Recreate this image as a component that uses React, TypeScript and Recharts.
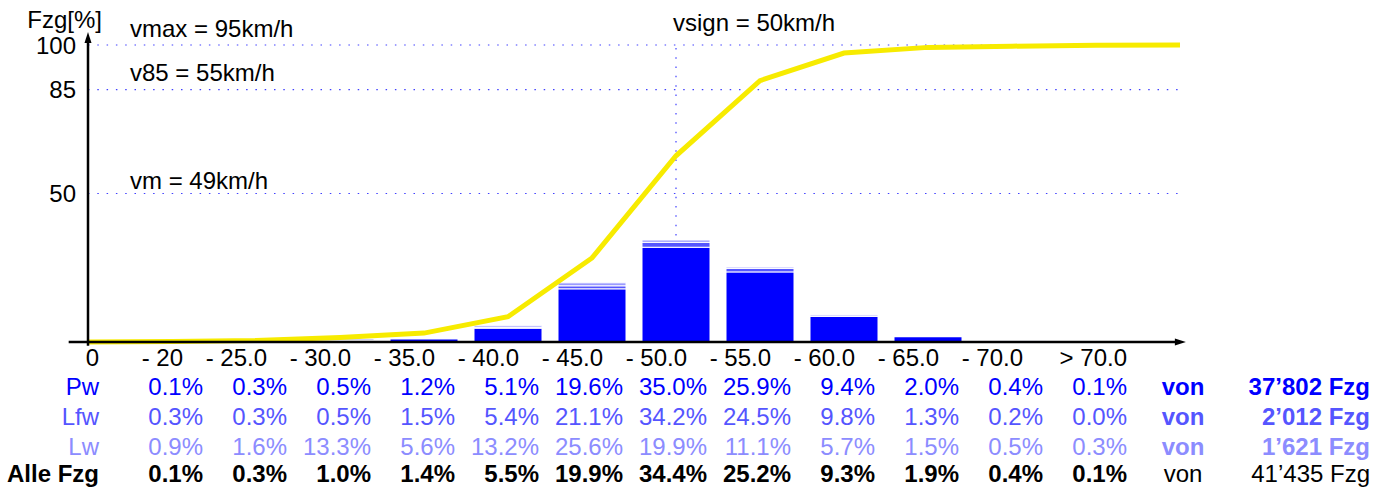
import { ComposedChart, Bar, Line, XAxis, YAxis, ReferenceLine } from "recharts";

const FONT = "'Liberation Sans', Arial, Helvetica, sans-serif";
const FS = 24;

// x positions: 0 = origin, 1..12 = speed classes, 13 = end of the sum curve
const positions = [0, 1, 2, 3, 4, 5, 6, 7, 8, 9, 10, 11, 12, 13];
const classLabels = ["- 20", "- 25.0", "- 30.0", "- 35.0", "- 40.0", "- 45.0", "- 50.0", "- 55.0", "- 60.0", "- 65.0", "- 70.0", "> 70.0"];

// table values (% per class)
const pwPct = [0.1, 0.3, 0.5, 1.2, 5.1, 19.6, 35.0, 25.9, 9.4, 2.0, 0.4, 0.1];
const lfwPct = [0.3, 0.3, 0.5, 1.5, 5.4, 21.1, 34.2, 24.5, 9.8, 1.3, 0.2, 0.0];
const lwPct = [0.9, 1.6, 13.3, 5.6, 13.2, 25.6, 19.9, 11.1, 5.7, 1.5, 0.5, 0.3];
const allePct = [0.1, 0.3, 1.0, 1.4, 5.5, 19.9, 34.4, 25.2, 9.3, 1.9, 0.4, 0.1];
const totals = ["37’802", "2’012", "1’621", "41’435"];

// bar heights (share of all vehicles, %)
const barPw = [0.09, 0.27, 0.46, 1.09, 4.65, 17.9, 31.9, 23.6, 8.6, 1.8, 0.36, 0.09];
const barLfw = [0.015, 0.015, 0.024, 0.07, 0.26, 1.02, 1.66, 1.19, 0.48, 0.06, 0.01, 0];
const barLw = [0.035, 0.06, 0.52, 0.22, 0.52, 1.0, 0.78, 0.43, 0.22, 0.06, 0.02, 0.01];

// cumulative curve
const cumul = [0, 0.2, 0.5, 1.5, 3.0, 8.5, 28.3, 62.7, 88.0, 97.3, 99.2, 99.6, 99.9, 100];

const rows = [
  { name: "Pw", values: pwPct, color: "#0000ff", bold: false, vonBold: true },
  { name: "Lfw", values: lfwPct, color: "#5555ff", bold: false, vonBold: true },
  { name: "Lw", values: lwPct, color: "#8c8cff", bold: false, vonBold: true },
  { name: "Alle Fzg", values: allePct, color: "#000000", bold: true, vonBold: false },
];

const data = positions.map((p, i) => ({
  pos: p,
  pw: i >= 1 && i <= 12 ? barPw[i - 1] : null,
  lfw: i >= 1 && i <= 12 ? barLfw[i - 1] : null,
  lw: i >= 1 && i <= 12 ? barLw[i - 1] : null,
  cum: cumul[i],
}));

const rowY = [53, 83, 113, 140];

function TableTick(props: any) {
  const { x, y, payload } = props;
  const v = payload.value;
  const txt = (s: string, tx: number, ty: number, color: string, bold: boolean, anchor = "end") => (
    <text x={tx} y={ty} fill={color} textAnchor={anchor} fontSize={FS} fontWeight={bold ? "bold" : "normal"} style={{ fontFamily: FONT }}>
      {s}
    </text>
  );
  if (v === 0) {
    return (
      <g>
        {txt("0", x + 11, y + 24, "#000", false)}
        {rows.map((r, k) => <g key={k}>{txt(r.name, x + 11, y + rowY[k], r.color, r.bold)}</g>)}
      </g>
    );
  }
  if (v === 13) {
    return (
      <g>
        {rows.map((r, k) => (
          <g key={k}>
            {txt("von", x + 3, y + rowY[k], r.color, r.vonBold, "middle")}
            {txt(totals[k] + " Fzg", x + 190, y + rowY[k], r.color, r.vonBold)}
          </g>
        ))}
      </g>
    );
  }
  const i = v - 1;
  return (
    <g>
      {txt(classLabels[i], x + (v === 12 ? 31 : 11), y + 24, "#000", false)}
      {rows.map((r, k) => <g key={k}>{txt(r.values[i].toFixed(1) + "%", x + 31, y + rowY[k], r.color, r.bold)}</g>)}
    </g>
  );
}

function arrowLine(p: any) {
  const { x1, y1, x2, y2 } = p;
  const dx = x2 - x1;
  const dy = y2 - y1;
  const len = Math.sqrt(dx * dx + dy * dy) || 1;
  const ux = dx / len;
  const uy = dy / len;
  const bx = x2 - ux * 11;
  const by = y2 - uy * 11;
  const pts = `${x2},${y2} ${bx - uy * 3.5},${by + ux * 3.5} ${bx + uy * 3.5},${by - ux * 3.5}`;
  return (
    <g>
      <line x1={x1} y1={y1} x2={bx + ux * 2} y2={by + uy * 2} stroke="#000" strokeWidth={2.5} />
      <polygon points={pts} fill="#000" />
    </g>
  );
}

const annot = (text: string, dx: number, dy: number) => (props: any) => {
  const vb = props.viewBox || {};
  return (
    <text x={vb.x + dx} y={vb.y + dy} fill="#000" fontSize={FS} style={{ fontFamily: FONT }}>
      {text}
    </text>
  );
};

const dotted = { stroke: "#4040ff", strokeWidth: 1.2, strokeDasharray: "1.5 7.8" };

export default function App() {
  return (
    <div style={{ position: "absolute", left: 0, top: 0, width: 1388, height: 490, background: "#fff" }}>
      <ComposedChart width={1388} height={490} data={data} margin={{ top: 45, right: 208, bottom: 0, left: 28 }}>
        <XAxis
          dataKey="pos"
          type="number"
          domain={[0, 13]}
          ticks={positions}
          interval={0}
          height={148}
          tickSize={0}
          tickMargin={0}
          tickLine={false}
          axisLine={false}
          tick={<TableTick />}
        />
        <YAxis
          type="number"
          domain={[0, 100]}
          ticks={[50, 85, 100]}
          width={60}
          tickSize={0}
          tickMargin={12}
          tickLine={false}
          axisLine={false}
          tick={{ fill: "#000", fontSize: FS, fontFamily: FONT }}
          label={(props: any) => {
            const vb = props.viewBox || {};
            return (
              <text x={vb.x + vb.width + 14} y={vb.y - 17} textAnchor="end" fill="#000" fontSize={FS} style={{ fontFamily: FONT }}>
                Fzg[%]
              </text>
            );
          }}
        />
        <ReferenceLine y={100} {...dotted} label={annot("vmax = 95km/h", 42, -8)} />
        <ReferenceLine y={85} {...dotted} label={annot("v85 = 55km/h", 42, -9)} />
        <ReferenceLine y={50} {...dotted} label={annot("vm = 49km/h", 42, -5)} />
        <ReferenceLine
          segment={[{ x: 7, y: 99 }, { x: 7, y: 34.5 }]}
          {...dotted}
          label={annot("vsign = 50km/h", -3, -17)}
        />
        <Bar dataKey="pw" stackId="s" fill="#0000ff" stroke="#fff" strokeWidth={1} barSize={68} isAnimationActive={false} />
        <Bar dataKey="lfw" stackId="s" fill="#5555ff" stroke="#fff" strokeWidth={1} barSize={68} isAnimationActive={false} />
        <Bar dataKey="lw" stackId="s" fill="#9a9aff" stroke="#fff" strokeWidth={1} barSize={68} isAnimationActive={false} />
        <Line dataKey="cum" type="linear" stroke="#f7eb00" strokeWidth={5} dot={false} activeDot={false} isAnimationActive={false} />
        <ReferenceLine segment={[{ x: -0.23, y: 0 }, { x: 13.07, y: 0 }]} ifOverflow="visible" shape={arrowLine} />
        <ReferenceLine segment={[{ x: 0, y: -1.3 }, { x: 0, y: 104.4 }]} ifOverflow="visible" shape={arrowLine} />
      </ComposedChart>
    </div>
  );
}
